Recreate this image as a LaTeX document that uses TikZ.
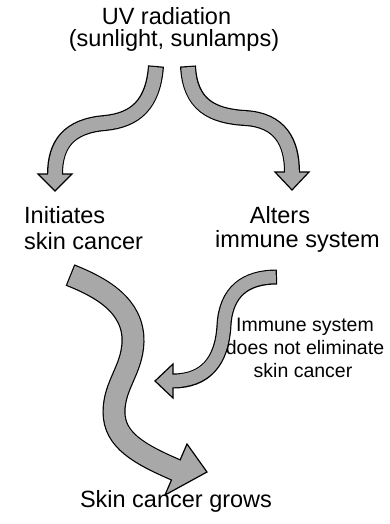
\documentclass[tikz,border=0pt]{standalone}
\usepackage{fontspec}
\setmainfont{Liberation Sans}
\definecolor{stip}{gray}{0.66}
\tikzset{
  big/.style={inner sep=0pt, anchor=base, font=\fontsize{23.5}{28}\selectfont},
  small/.style={inner sep=0pt, anchor=base, font=\fontsize{19.5}{23}\selectfont},
  headtri/.style={fill=stip, draw=black, line width=1.2pt, line join=miter},
}
\begin{document}
\begin{tikzpicture}[x=1pt,y=-1pt]
\useasboundingbox (0,0) rectangle (389,524);
% texts
\node[big] (uv1) at (166.5,25) {UV radiation};
\node[big] (uv2) at (174,47) {(sunlight, sunlamps)};
\node[big,anchor=base west] (init1) at (24,223) {Initiates};
\node[big,anchor=base west] (init2) at (24,249) {skin cancer};
\node[big] (alt1) at (280,223) {Alters};
\node[big] (alt2) at (297.5,247) {immune system};
\node[small] (lb1) at (305,331) {Immune system};
\node[small] (lb2) at (305,354) {does not eliminate};
\node[small] (lb3) at (303,377) {skin cancer};
\node[big] (grow) at (176,507) {Skin cancer grows};
% arrow 1
\def\pA{(156,66) .. controls (153,105) and (135,120) .. (105,123) .. controls (68,126) and (55,145) .. (55,174)}
\draw[line width=16pt, black] \pA;
\filldraw[headtri] (38,174) -- (55,191) -- (72,174) -- cycle;
\draw[line width=13.6pt, stip, shorten <=1.2pt, shorten >=-1.5pt] \pA;
% arrow 2
\def\pB{(188,66) .. controls (190,105) and (212,116) .. (245,118) .. controls (280,120) and (292,142) .. (292,172)}
\draw[line width=16pt, black] \pB;
\filldraw[headtri] (275,172) -- (292,190) -- (309,172) -- cycle;
\draw[line width=13.6pt, stip, shorten <=1.2pt, shorten >=-1.5pt] \pB;
% arrow 3
\def\pC{(70,275) .. controls (100,287) and (134,305) .. (133,342) .. controls (132,370) and (114,385) .. (114,412) .. controls (114,440) and (139,454) .. (176,470)}
\draw[line width=23pt, black] \pC;
\filldraw[headtri] (187,444) -- (207,472) -- (165,495) -- cycle;
\draw[line width=20.6pt, stip, shorten <=1.2pt, shorten >=-1.5pt] \pC;
% arrow 4
\def\pD{(277,277) .. controls (245,277) and (226,292) .. (224,325) .. controls (222,362) and (205,381) .. (173,381)}
\draw[line width=15pt, black] \pD;
\filldraw[headtri] (173,364) -- (155,381) -- (173,398) -- cycle;
\draw[line width=12.6pt, stip, shorten <=1.2pt, shorten >=-1.5pt] \pD;
\end{tikzpicture}
\end{document}
